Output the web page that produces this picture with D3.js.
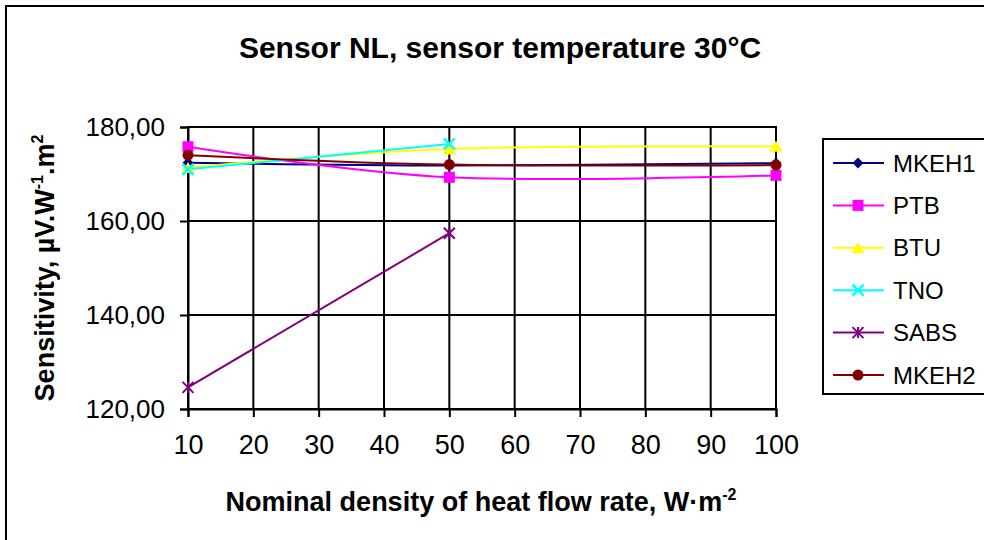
<!DOCTYPE html>
<html><head><meta charset="utf-8">
<script src="https://cdn.jsdelivr.net/npm/d3@7"></script>
<style>body{margin:0;background:#fff}svg{display:block;font-family:Arial,"Liberation Sans",sans-serif}</style>
</head><body><svg id="c" width="984" height="540"></svg>
<script>
const xValues = [10, 50, 100];
const xTicks = [10,20,30,40,50,60,70,80,90,100];
const yTicks = [120,140,160,180];
const seriesNames = ["MKEH1","PTB","BTU","TNO","SABS","MKEH2"];
const MKEH1 = [172.4, 171.8, 172.3];
const PTB   = [175.8, 169.3, 169.7];
const BTU   = [171.4, 175.3, 175.9];
const TNO   = [171.0, 176.4, null];
const SABS  = [124.6, 157.4, null];
const MKEH2 = [174.0, 172.0, 171.9];
const seriesValues = [MKEH1, PTB, BTU, TNO, SABS, MKEH2];
const colors = ["#000080","#FF00FF","#FFFF00","#00FFFF","#800080","#800000"];
const markers = ["diamond","square","triangle","x","star","circle"];
const FONT = "Arial, 'Liberation Sans', sans-serif";

const svg = d3.select("#c");
svg.append("rect").attr("x",6).attr("y",6).attr("width",1000).attr("height",600)
  .attr("fill","#fff").attr("stroke","#000").attr("stroke-width",2);

const x = d3.scaleLinear().domain([10,100]).range([188,776]);
const y = d3.scaleLinear().domain([120,180]).range([409,127]);

// grid
const g = svg.append("g");
g.selectAll(".vg").data(xTicks).join("line")
  .attr("x1",d=>x(d)).attr("x2",d=>x(d)).attr("y1",y(180)).attr("y2",y(120))
  .attr("stroke","#000").attr("stroke-width",2);
g.selectAll(".hg").data(yTicks).join("line")
  .attr("x1",x(10)).attr("x2",x(100)).attr("y1",d=>y(d)).attr("y2",d=>y(d))
  .attr("stroke","#000").attr("stroke-width",2);

const xAxis = svg.append("g").attr("transform",`translate(0,${y(120)})`)
  .call(d3.axisBottom(x).tickValues(xTicks).tickSize(8).tickPadding(18).tickFormat(d3.format("d")));
const yAxis = svg.append("g").attr("transform",`translate(${x(10)},0)`)
  .call(d3.axisLeft(y).tickValues(yTicks).tickSize(8).tickPadding(15).tickFormat(d=>d.toFixed(2).replace(".",",")));
[xAxis,yAxis].forEach(a=>{
  a.select(".domain").attr("stroke","#000").attr("stroke-width",2);
  a.selectAll(".tick line").attr("stroke","#000").attr("stroke-width",2);
  a.selectAll("text").attr("font-size",26).attr("fill","#000").attr("font-family",FONT);
});
xAxis.selectAll("text").attr("font-size",27);
svg.append("rect").attr("x",x(10)).attr("y",y(180)).attr("width",x(100)-x(10)).attr("height",y(120)-y(180))
  .attr("fill","none").attr("stroke","#000").attr("stroke-width",2);

// symbols
function marker(sel, type, color){
  const s = 5.5;
  if(type==="diamond") sel.append("path").attr("d",`M0,${-s}L${s},0L0,${s}L${-s},0Z`).attr("fill",color);
  else if(type==="square") sel.append("rect").attr("x",-s).attr("y",-s).attr("width",2*s).attr("height",2*s).attr("fill",color);
  else if(type==="triangle") sel.append("path").attr("d",`M0,${-s}L${s+1},${s}L${-s-1},${s}Z`).attr("fill",color);
  else if(type==="circle") sel.append("circle").attr("r",s).attr("fill",color);
  else if(type==="x") sel.append("path").attr("d",`M${-s},${-s}L${s},${s}M${-s},${s}L${s},${-s}`).attr("stroke",color).attr("stroke-width",2.5);
  else if(type==="star") sel.append("path").attr("d",`M${-s},${-s}L${s},${s}M${-s},${s}L${s},${-s}M0,${-s}L0,${s}`).attr("stroke",color).attr("stroke-width",2);
}

const line = d3.line().defined(d=>d[1]!=null).x(d=>x(d[0])).y(d=>y(d[1])).curve(d3.curveCardinal.tension(0));
seriesValues.forEach((vals,i)=>{
  const pts = xValues.map((xv,j)=>[xv, vals[j]]);
  svg.append("path").attr("d",line(pts)).attr("fill","none").attr("stroke",colors[i]).attr("stroke-width",2);
});
seriesValues.forEach((vals,i)=>{
  xValues.forEach((xv,j)=>{
    if(vals[j]==null) return;
    const m = svg.append("g").attr("transform",`translate(${x(xv)},${y(vals[j])})`);
    marker(m, markers[i], colors[i]);
  });
});

// title
svg.append("text").attr("x",500).attr("y",58).attr("text-anchor","middle")
  .attr("font-size",30).attr("font-weight","bold").text("Sensor NL, sensor temperature 30°C");

// x title
const xt = svg.append("text").attr("x",481).attr("y",511).attr("text-anchor","middle")
  .attr("font-size",27).attr("font-weight","bold");
xt.append("tspan").text("Nominal density of heat flow rate, W·m");
xt.append("tspan").attr("dy",-11).attr("font-size",16).text("-2");

// y title
const yt = svg.append("text").attr("transform",`translate(54,${(y(120)+y(180))/2}) rotate(-90)`)
  .attr("text-anchor","middle").attr("font-size",27).attr("font-weight","bold");
yt.append("tspan").text("Sensitivity, µV.W");
yt.append("tspan").attr("dy",-11).attr("font-size",16).text("-1");
yt.append("tspan").attr("dy",11).text(".m");
yt.append("tspan").attr("dy",-11).attr("font-size",16).text("2");

// legend
const lg = svg.append("g");
lg.append("rect").attr("x",823).attr("y",139).attr("width",200).attr("height",255)
  .attr("fill","#fff").attr("stroke","#000").attr("stroke-width",2);
seriesNames.forEach((n,i)=>{
  const ly = 163 + i*42.4;
  lg.append("line").attr("x1",833).attr("x2",884).attr("y1",ly).attr("y2",ly).attr("stroke",colors[i]).attr("stroke-width",2);
  const m = lg.append("g").attr("transform",`translate(858,${ly})`);
  marker(m, markers[i], colors[i]);
  lg.append("text").attr("x",893).attr("y",ly+8.5).attr("font-size",24).text(n);
});
</script></body></html>
